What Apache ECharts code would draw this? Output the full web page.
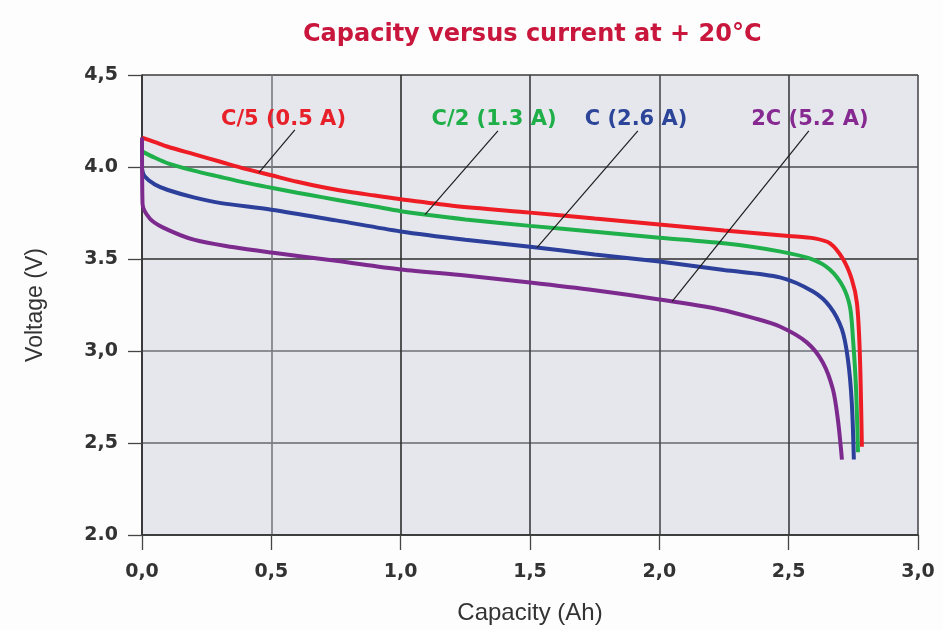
<!DOCTYPE html>
<html>
<head>
<meta charset="utf-8">
<script src="https://cdn.jsdelivr.net/npm/echarts@6/dist/echarts.min.js"></script>
<style>
html,body{margin:0;padding:0;background:#fdfdfd;}
#chart{width:943px;height:630px;}
</style>
</head>
<body>
<div id="chart"></div>
<script>
// ---- data ----
const titleText = 'Capacity versus current at + 20°C';
const xAxisName = 'Capacity (Ah)';
const yAxisName = 'Voltage (V)';
const xTickLabels = ['0,0', '0,5', '1,0', '1,5', '2,0', '2,5', '3,0'];
const yTickLabels = ['2.0', '2,5', '3,0', '3.5', '4.0', '4,5'];

const seriesNames = ['C/5 (0.5 A)', 'C/2 (1.3 A)', 'C (2.6 A)', '2C (5.2 A)'];

const curveC5 = [
  [0, 4.16], [0.05, 4.135], [0.1, 4.11], [0.2, 4.07], [0.3, 4.03], [0.4, 3.99],
  [0.5, 3.955], [0.6, 3.92], [0.7, 3.89], [0.8, 3.865], [0.9, 3.845], [1.0, 3.825],
  [1.2, 3.79], [1.5, 3.752], [1.75, 3.72], [2.0, 3.688], [2.25, 3.655], [2.5, 3.625],
  [2.6, 3.612], [2.66, 3.585], [2.71, 3.5], [2.744, 3.39], [2.764, 3.26],
  [2.775, 2.99], [2.783, 2.48]
];
const curveC2 = [
  [0, 4.085], [0.05, 4.05], [0.1, 4.02], [0.2, 3.98], [0.3, 3.947], [0.4, 3.915],
  [0.5, 3.887], [0.6, 3.86], [0.7, 3.835], [0.8, 3.81], [0.9, 3.785], [1.0, 3.76],
  [1.1, 3.74], [1.25, 3.715], [1.5, 3.68], [1.75, 3.648], [2.0, 3.616], [2.25, 3.585],
  [2.47, 3.54], [2.594, 3.497], [2.659, 3.443], [2.71, 3.35], [2.737, 3.24],
  [2.748, 3.08], [2.76, 2.81], [2.768, 2.45]
];
const curveC1 = [
  [0, 3.99], [0.01, 3.95], [0.05, 3.905], [0.1, 3.875], [0.2, 3.835], [0.3, 3.805],
  [0.5, 3.768], [0.75, 3.71], [1.0, 3.65], [1.25, 3.605], [1.5, 3.567], [1.75, 3.525],
  [2.0, 3.486], [2.25, 3.44], [2.466, 3.40], [2.594, 3.323], [2.659, 3.242],
  [2.706, 3.117], [2.729, 2.955], [2.744, 2.72], [2.752, 2.41]
];
const curve2C = [
  [0, 4.16], [0.002, 3.8], [0.03, 3.72], [0.08, 3.672], [0.2, 3.605], [0.35, 3.565],
  [0.5, 3.535], [0.75, 3.49], [1.0, 3.443], [1.25, 3.41], [1.5, 3.372], [1.75, 3.33],
  [2.0, 3.28], [2.234, 3.226], [2.362, 3.18], [2.466, 3.133], [2.57, 3.047],
  [2.632, 2.938], [2.671, 2.792], [2.69, 2.63], [2.706, 2.41]
];

// label anchor positions (data coords) and leader lines (data coords)
const labelPoints = [[0.547, 4.259], [1.361, 4.259], [1.91, 4.259], [2.582, 4.259]];
const leaderC5 = [[0.591, 4.202], [0.452, 3.969]];
const leaderC2 = [[1.376, 4.196], [1.094, 3.741]];
const leaderC1 = [[1.917, 4.196], [1.527, 3.562]];
const leader2C = [[2.578, 4.196], [2.049, 3.269]];

// ---- styling ----
const curveColors = ['#ee1d25', '#1fb04b', '#2b3f9b', '#7d2a8f'];
const labelColors = ['#e8202a', '#1faf48', '#2c4599', '#862a92'];
const curves = [curveC5, curveC2, curveC1, curve2C];
const leaders = [leaderC5, leaderC2, leaderC1, leader2C];

const chart = echarts.init(document.getElementById('chart'), null, {renderer: 'canvas'});

const series = [];
leaders.forEach((l) => {
  series.push({
    type: 'line', data: l, symbol: 'none', silent: true, z: 4,
    lineStyle: {color: '#1e1e1e', width: 1.2}
  });
});
curves.forEach((c, i) => {
  series.push({
    name: seriesNames[i], type: 'line', data: c, symbol: 'none',
    smooth: 0.3, z: 3,
    lineStyle: {color: curveColors[i], width: 4}
  });
});
series.push({
  type: 'scatter', symbolSize: 0, z: 5, itemStyle: {opacity: 1},
  data: labelPoints.map((p, i) => ({
    value: p,
    label: {
      show: true, position: 'inside', formatter: seriesNames[i], opacity: 1,
      color: labelColors[i], fontFamily: 'DejaVu Sans', fontWeight: 'bold', fontSize: 21
    }
  }))
});

chart.setOption({
  backgroundColor: '#fdfdfd',
  animation: false,
  title: {
    text: titleText, left: 298, top: 18,
    textStyle: {color: '#c8163c', fontFamily: 'DejaVu Sans', fontWeight: 'bold', fontSize: 24}
  },
  grid: {left: 142, top: 75, width: 776, height: 461, show: true,
         backgroundColor: '#e5e7ec', borderWidth: 0},
  xAxis: {
    type: 'value', min: 0, max: 3, interval: 0.5,
    name: xAxisName, nameLocation: 'middle', nameGap: 66,
    nameTextStyle: {fontFamily: 'Liberation Sans', fontSize: 24, color: '#333'},
    axisLine: {show: true, onZero: false, lineStyle: {color: '#333', width: 1.6}},
    axisTick: {show: true, inside: false, length: 15,
      lineStyle: {color: '#444', width: 1.3}},
    axisLabel: {margin: 28, fontFamily: 'DejaVu Sans', fontWeight: 'bold', fontSize: 19, color: '#333',
      formatter: (v) => xTickLabels[Math.round(v / 0.5)]},
    splitLine: {show: true, showMinLine: true, showMaxLine: true,
      lineStyle: {color: ['#333', '#777a82', '#2e2e2e', '#3c3c40', '#4a4a4e', '#3c3c40', '#4a4a50'], width: 1.6}}
  },
  yAxis: {
    type: 'value', min: 2, max: 4.5, interval: 0.5,
    name: yAxisName, nameLocation: 'middle', nameGap: 95, nameRotate: 90,
    nameTextStyle: {fontFamily: 'Liberation Sans', fontSize: 23, color: '#333'},
    axisLine: {show: true, onZero: false, lineStyle: {color: '#333', width: 1.6}},
    axisTick: {show: true, inside: false, length: 14,
      lineStyle: {color: '#444', width: 1.3}},
    axisLabel: {margin: 24, fontFamily: 'DejaVu Sans', fontWeight: 'bold', fontSize: 19, color: '#333',
      formatter: (v) => yTickLabels[Math.round((v - 2) / 0.5)]},
    splitLine: {show: true, showMinLine: true, showMaxLine: true,
      lineStyle: {color: ['#333', '#66686f', '#6e7078', '#2e2e2e', '#4a4a50', '#3a3a3a'], width: 1.6}}
  },
  series: series
});
</script>
</body>
</html>
